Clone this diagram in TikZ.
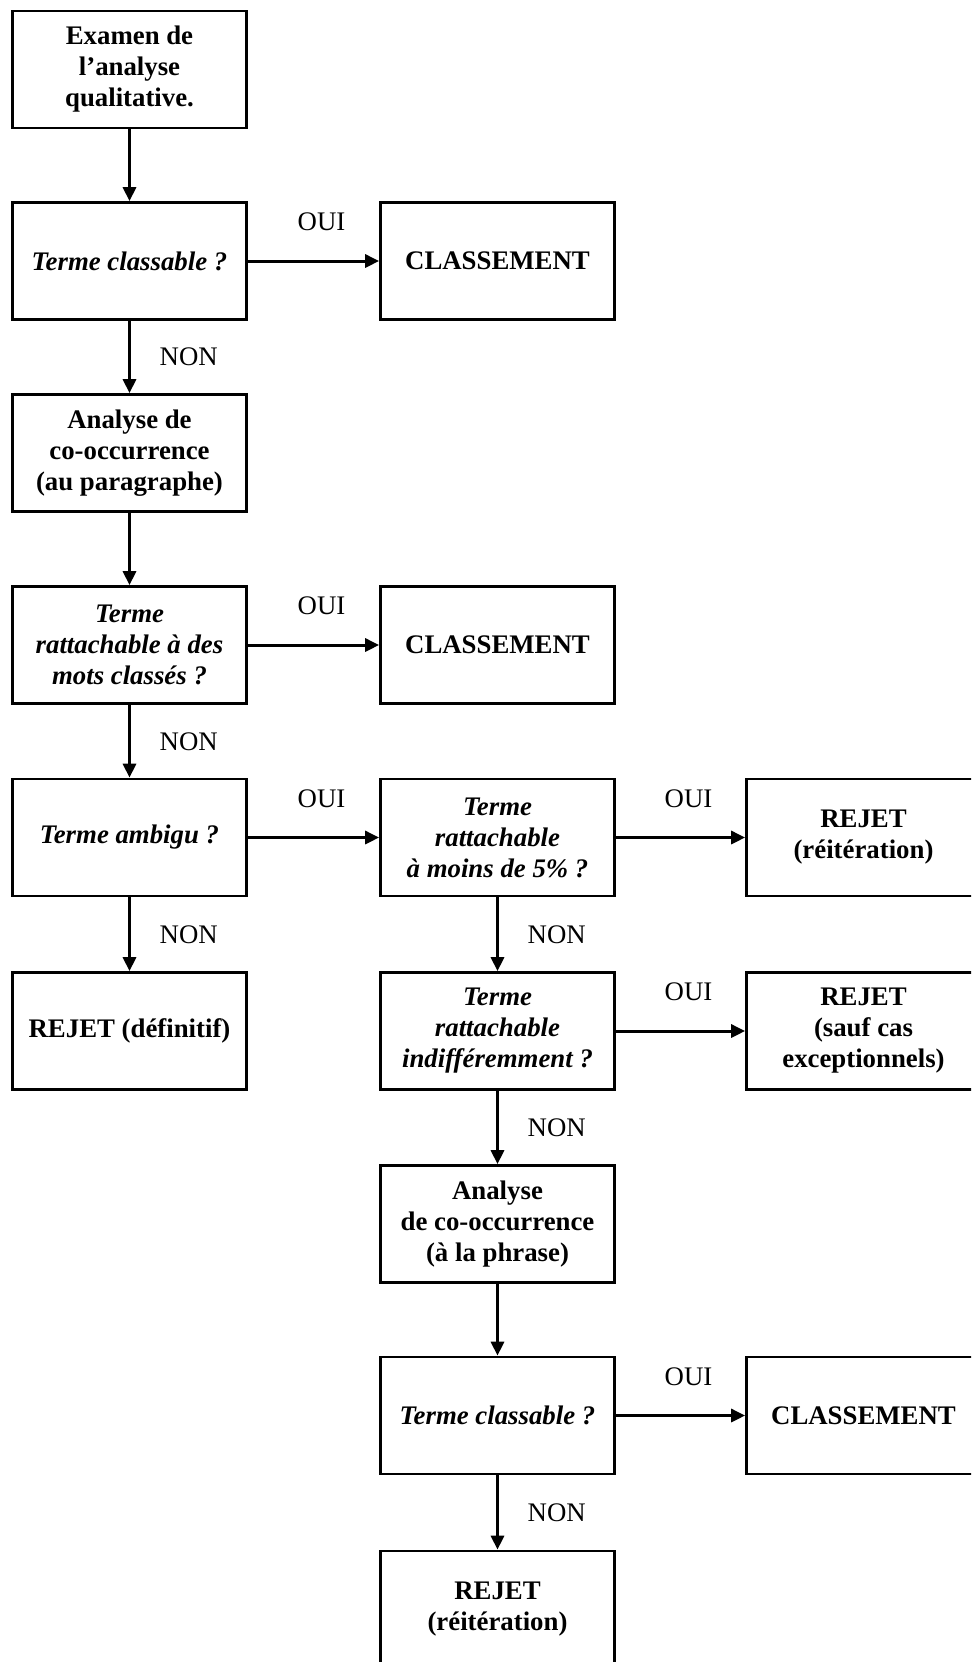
\documentclass[tikz,border=0pt]{standalone}
\usepackage{fontspec}
\setmainfont{Liberation Serif}
\usetikzlibrary{arrows.meta}

\tikzset{
  boite/.style={draw, line width=1.35pt, minimum width=117pt, minimum height=58.5pt,
    inner sep=2pt, align=center, font=\bfseries\fontsize{13.4}{15.5}\selectfont},
  fleche/.style={-{Triangle[length=7pt,width=6.5pt]}, line width=1.5pt},
  etiq/.style={font=\fontsize{13.4}{15.5}\selectfont}
}

\begin{document}
\begin{tikzpicture}[x=0.5pt, y=-0.5pt]

\clip (0,0) rectangle (971,1662);

% Colonne de gauche
\node[boite] (exam) at (129.5,69.5) {Examen de\\ l’analyse\\ qualitative.};
\node[boite] (q1) at (129.5,261) {\textit{Terme classable ?}};
\node[boite] (ana1) at (129.5,453) {Analyse de\\ co-occurrence\\ (au paragraphe)};
\node[boite] (q2) at (129.5,645) {\textit{Terme}\\ \textit{rattachable à des}\\ \textit{mots classés ?}};
\node[boite] (q3) at (129.5,837.5) {\textit{Terme ambigu ?}};
\node[boite] (rejdef) at (129.5,1031) {REJET (définitif)};

% Colonne du milieu
\node[boite] (cl1) at (497.5,261) {CLASSEMENT};
\node[boite] (cl2) at (497.5,645) {CLASSEMENT};
\node[boite] (q4) at (497.5,837.5) {\textit{Terme}\\ \textit{rattachable}\\ \textit{à moins de 5\% ?}};
\node[boite] (q5) at (497.5,1031) {\textit{Terme}\\ \textit{rattachable}\\ \textit{indifféremment ?}};
\node[boite] (ana2) at (497.5,1224) {Analyse\\ de co-occurrence\\ (à la phrase)};
\node[boite] (q6) at (497.5,1415.5) {\textit{Terme classable ?}};
\node[boite] (rej3) at (497.5,1609.5) {REJET\\ (réitération)};

% Colonne de droite
\node[boite] (rej1) at (863.5,837.5) {REJET\\ (réitération)};
\node[boite] (rej2) at (863.5,1031) {REJET\\ (sauf cas\\ exceptionnels)};
\node[boite] (cl3) at (863.5,1415.5) {CLASSEMENT};

% Fleches verticales
\draw[fleche] (exam) -- (q1);
\draw[fleche] (q1) -- node[etiq, right=11pt] {NON} (ana1);
\draw[fleche] (ana1) -- (q2);
\draw[fleche] (q2) -- node[etiq, right=11pt] {NON} (q3);
\draw[fleche] (q3) -- node[etiq, right=11pt] {NON} (rejdef);
\draw[fleche] (q4) -- node[etiq, right=11pt] {NON} (q5);
\draw[fleche] (q5) -- node[etiq, right=11pt] {NON} (ana2);
\draw[fleche] (ana2) -- (q6);
\draw[fleche] (q6) -- node[etiq, right=11pt] {NON} (rej3);

% Fleches horizontales
\draw[fleche] (q1) -- node[etiq, above=11pt, xshift=4pt] {OUI} (cl1);
\draw[fleche] (q2) -- node[etiq, above=11pt, xshift=4pt] {OUI} (cl2);
\draw[fleche] (q3) -- node[etiq, above=11pt, xshift=4pt] {OUI} (q4);
\draw[fleche] (q4) -- node[etiq, above=11pt, xshift=4pt] {OUI} (rej1);
\draw[fleche] (q5) -- node[etiq, above=11pt, xshift=4pt] {OUI} (rej2);
\draw[fleche] (q6) -- node[etiq, above=11pt, xshift=4pt] {OUI} (cl3);

\end{tikzpicture}
\end{document}
